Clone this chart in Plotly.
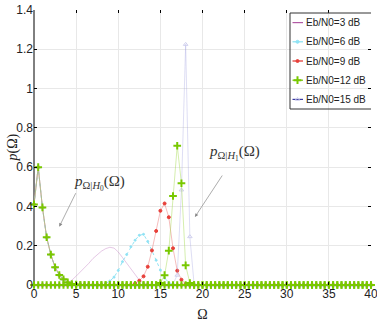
import numpy as np
import plotly.graph_objects as go

# Omega sample grid (step 0.5 from 0 to 40)
omega = np.arange(0, 40.5, 0.5)

# H0 pdf (common to all curves), nonzero part starting at omega=0
h0_start = 0.0
h0_vals = [0.41, 0.60, 0.395, 0.243, 0.155, 0.09, 0.051, 0.029, 0.013, 0.005, 0.002]

# H1 pdfs, nonzero parts (start omega, values)
labels = ["Eb/N0=3 dB", "Eb/N0=6 dB", "Eb/N0=9 dB", "Eb/N0=12 dB", "Eb/N0=15 dB"]
h1_start = [4.0, 8.5, 12.0, 15.0, 16.5]
h1_vals = [
    [0.01, 0.025, 0.045, 0.066, 0.088, 0.11, 0.135, 0.155, 0.172, 0.185, 0.192,
     0.188, 0.168, 0.14, 0.11, 0.08, 0.05, 0.025, 0.01, 0.003, 0.0],
    [0.008, 0.02, 0.04, 0.074, 0.119, 0.155, 0.195, 0.228, 0.253, 0.258, 0.222,
     0.177, 0.126, 0.076, 0.036, 0.012, 0.003],
    [0.008, 0.022, 0.044, 0.093, 0.176, 0.275, 0.378, 0.415, 0.345, 0.187, 0.073, 0.027, 0.005],
    [0.01, 0.05, 0.175, 0.453, 0.709, 0.518, 0.10, 0.01],
    [0.005, 0.05, 0.484, 1.225, 0.246, 0.005],
]

xticks = list(range(0, 41, 5))
yticks = [0, 0.2, 0.4, 0.6, 0.8, 1, 1.2, 1.4]
ytick_text = ["0", "0.2", "0.4", "0.6", "0.8", "1", "1.2", "1.4"]

line_colors = ["rgba(190,120,190,0.45)", "rgba(120,220,240,0.9)", "rgba(235,120,120,0.55)",
               "rgba(170,220,90,0.55)", "rgba(150,150,220,0.35)"]
legend_colors = ["#b25aa5", "#86e0f0", "#e0302a", "#6fc000", "#3a3aa0"]
marker_syms = [None, "circle", "circle", "cross-thin", "triangle-up-open"]
marker_cols = [None, "#8fe3f5", "#e8403a", "#78c800", "#d0d0ee"]
marker_sizes = [0, 2, 3, 5.5, 4]
dashes = ["solid", "dot", "solid", "solid", "solid"]
draw_order = [0, 1, 2, 4, 3]  # green drawn last so its markers sit on top


def fill(start, vals):
    y = np.zeros_like(omega)
    i0 = int(round(start / 0.5))
    y[i0:i0 + len(vals)] = vals
    return y


def make_marker(k):
    if marker_syms[k] is None:
        return None
    return dict(symbol=marker_syms[k], size=marker_sizes[k], color=marker_cols[k],
                line=dict(color=marker_cols[k], width=2 if k == 3 else 1))


h0 = fill(h0_start, h0_vals)

fig = go.Figure()
for k in draw_order:
    y1 = fill(h1_start[k], h1_vals[k])
    mode = "lines" if marker_syms[k] is None else "lines+markers"
    for yy in (h0, y1):
        fig.add_trace(go.Scatter(x=omega, y=yy, mode=mode, showlegend=False, cliponaxis=False,
                                 line=dict(color=line_colors[k], width=0.9, dash=dashes[k]),
                                 marker=make_marker(k), hoverinfo="skip"))

# ---- hand-made legend on a pixel-coordinate overlay axis ----
L, R, T, B = 34, 371, 10, 285  # plot area in pixels
box = dict(x0=290, x1=371.5, y0=13, y1=109)
for i, lab in enumerate(labels):
    yc = box["y0"] + (box["y1"] - box["y0"]) * (i + 0.5) / 5
    fig.add_trace(go.Scatter(x=[292.5, 297.5, 303], y=[yc, yc, yc], xaxis="x2", yaxis="y2",
                             mode="lines", line=dict(color=legend_colors[i], width=1.2),
                             showlegend=False, hoverinfo="skip", cliponaxis=False))
    if marker_syms[i] is not None:
        m = make_marker(i)
        m["size"] = max(m["size"], 3)
        fig.add_trace(go.Scatter(x=[297.5], y=[yc], xaxis="x2", yaxis="y2", mode="markers",
                                 marker=m, showlegend=False, hoverinfo="skip", cliponaxis=False))
    fig.add_annotation(x=304, y=yc, xref="x2", yref="y2", text=lab, showarrow=False,
                       xanchor="left", yanchor="middle",
                       font=dict(family="Liberation Sans, Arial", size=10, color="#222"))
fig.add_shape(type="rect", xref="x2", yref="y2", x0=box["x0"], x1=box["x1"],
              y0=box["y0"], y1=box["y1"], line=dict(color="#333", width=1),
              fillcolor="rgba(255,255,255,0)", layer="above")
fig.add_shape(type="rect", xref="x2", yref="y2", x0=box["x0"], x1=box["x1"],
              y0=box["y0"], y1=box["y1"], line=dict(width=0),
              fillcolor="white", layer="below")

axis_font = dict(family="Liberation Sans, Arial", size=12, color="#222")

fig.update_layout(
    width=377, height=322,
    margin=dict(l=L, r=377 - R, t=T, b=322 - B, autoexpand=False),
    paper_bgcolor="white", plot_bgcolor="white",
    font=axis_font, showlegend=False,
    xaxis=dict(range=[0, 40], tickvals=xticks, ticks="inside", ticklen=3,
               tickcolor="black", showgrid=True, gridcolor="#e8e8e8", gridwidth=1,
               showline=False, mirror="allticks", ticklabeloverflow="allow",
               zeroline=False, tickfont=axis_font,
               title=dict(text="Ω", font=dict(family="Liberation Serif", size=14, color="#222"))),
    yaxis=dict(range=[0, 1.4], tickvals=yticks, ticktext=ytick_text,
               ticks="inside", ticklen=3, tickcolor="black",
               showgrid=True, gridcolor="#e8e8e8", gridwidth=1,
               showline=False, mirror="allticks", ticklabeloverflow="allow",
               zeroline=False, tickfont=axis_font),
    xaxis2=dict(range=[L, R], overlaying="x", visible=False, fixedrange=True),
    yaxis2=dict(range=[B, T], overlaying="y", visible=False, fixedrange=True),
)

# y-axis title
fig.add_annotation(x=(12 - L) / (R - L), y=0.5, xref="paper", yref="paper", showarrow=False,
                   text="<i>p</i>(Ω)", textangle=-90, xanchor="center", yanchor="middle",
                   font=dict(family="Liberation Serif", size=14, color="#222"))

# left and bottom axis lines
fig.add_shape(type="line", xref="paper", yref="paper", x0=0, x1=0, y0=0, y1=1,
              line=dict(color="black", width=1), layer="below")
fig.add_shape(type="line", xref="paper", yref="paper", x0=0, x1=1, y0=0, y1=0,
              line=dict(color="black", width=1), layer="below")

ann_font = dict(family="Liberation Serif", size=15, color="#333")
# H0 label + arrow
fig.add_annotation(x=7.8, y=0.52, xref="x", yref="y", showarrow=False,
                   text="<i>p</i><sub>Ω|<i>H</i><sub>0</sub></sub>(Ω)", font=ann_font)
fig.add_annotation(x=3.0, y=0.297, xref="x", yref="y", ax=5.04, ay=0.475, axref="x", ayref="y",
                   text="", showarrow=True, arrowhead=2, arrowsize=1, arrowwidth=0.7,
                   arrowcolor="#888")
# H1 label + arrow
fig.add_annotation(x=23.8, y=0.672, xref="x", yref="y", showarrow=False,
                   text="<i>p</i><sub>Ω|<i>H</i><sub>1</sub></sub>(Ω)", font=ann_font)
fig.add_annotation(x=19.1, y=0.346, xref="x", yref="y", ax=22.46, ay=0.565, axref="x", ayref="y",
                   text="", showarrow=True, arrowhead=2, arrowsize=1, arrowwidth=0.7,
                   arrowcolor="#888")

fig.write_html("out.html")
